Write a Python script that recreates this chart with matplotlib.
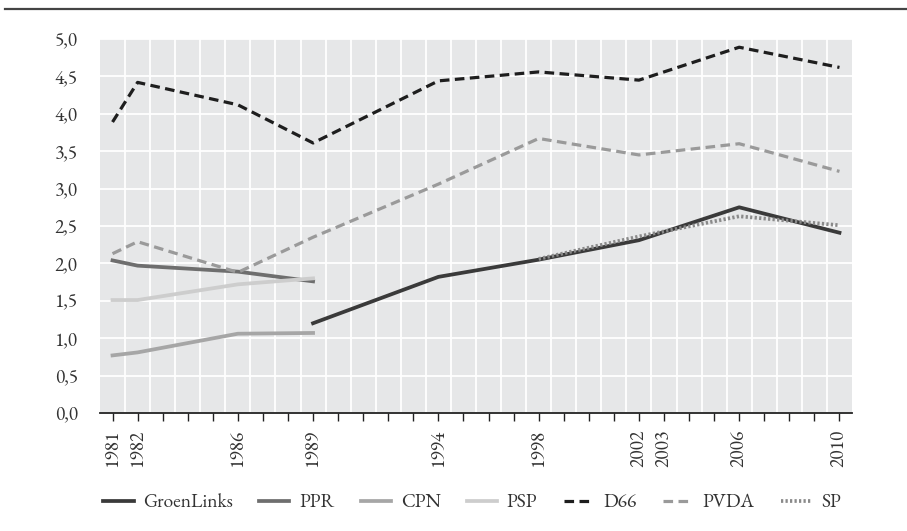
import numpy as np
import matplotlib.pyplot as plt
from matplotlib.lines import Line2D
from matplotlib.ticker import FixedLocator

# values
years_early = [1981, 1982, 1986, 1989]
ppr = [2.04, 1.97, 1.89, 1.76]
cpn = [0.77, 0.81, 1.06, 1.07]
psp = [1.51, 1.51, 1.72, 1.80]

years_gl = [1989, 1994, 1998, 2002, 2006, 2010]
groenlinks = [1.20, 1.82, 2.05, 2.31, 2.75, 2.41]

years_sp = [1998, 2002, 2006, 2010]
sp = [2.06, 2.36, 2.63, 2.51]

years_all = [1981, 1982, 1986, 1989, 1994, 1998, 2002, 2006, 2010]
d66 = [3.89, 4.42, 4.12, 3.61, 4.44, 4.56, 4.45, 4.89, 4.62]
pvda = [2.13, 2.29, 1.88, 2.35, 3.06, 3.67, 3.45, 3.60, 3.23]

labelled_years = [1981, 1982, 1986, 1989, 1994, 1998, 2002, 2003, 2006, 2010]
y_ticks = [0.0, 0.5, 1.0, 1.5, 2.0, 2.5, 3.0, 3.5, 4.0, 4.5, 5.0]

plt.rcParams['font.family'] = ['EB Garamond', 'Liberation Serif', 'DejaVu Serif']

fig = plt.figure(figsize=(9.07, 5.31), dpi=100)
ax = fig.add_axes([100 / 907, 1 - 413 / 531, 752 / 907, 374 / 531])
ax.set_facecolor('#e6e7e8')

lw = 2.3
ax.plot(years_gl, groenlinks, color='#3a3a3a', lw=lw + 0.4, label='GroenLinks', zorder=4)
ax.plot(years_early, ppr, color='#6e6e6e', lw=lw + 0.4, label='PPR', zorder=3)
ax.plot(years_early, cpn, color='#a6a6a6', lw=lw + 0.4, label='CPN', zorder=3)
ax.plot(years_early, psp, color='#cdcdcd', lw=lw + 0.4, label='PSP', zorder=3)
ax.plot(years_all, d66, color='#1e1e1e', lw=lw, ls=(0, (3, 1.7)), label='D66', zorder=3)
ax.plot(years_all, pvda, color='#9a9a9a', lw=lw, ls=(0, (3, 1.7)), label='PVDA', zorder=3)
ax.plot(years_sp, sp, color='#8a8a8a', lw=lw + 0.4, ls=(0, (0.6, 0.6)), label='SP', zorder=5)

ax.set_xlim(1980.5, 2010.5)
ax.set_ylim(0, 5)

all_years = list(range(1981, 2011))
ax.xaxis.set_major_locator(FixedLocator(all_years))
ax.set_xticklabels([str(y) if y in labelled_years else '' for y in all_years],
                   rotation=90, fontsize=14, color='#333333')
ax.xaxis.set_minor_locator(FixedLocator([y + 0.5 for y in all_years[:-1]]))
ax.set_yticks(y_ticks)
ax.set_yticklabels([f'{v:.1f}'.replace('.', ',') for v in y_ticks], fontsize=14, color='#333333')

ax.grid(False)
ax.grid(True, which='minor', axis='x', color='white', lw=1.3)
ax.grid(True, which='major', axis='y', color='white', lw=1.3)
ax.set_axisbelow(True)

for s in ['top', 'right', 'left']:
    ax.spines[s].set_visible(False)
ax.spines['bottom'].set_color('#222222')
ax.spines['bottom'].set_linewidth(1.3)
ax.tick_params(axis='x', which='major', length=6, width=1, color='#222222', pad=6)
ax.tick_params(axis='x', which='minor', length=0)
ax.tick_params(axis='y', length=0, pad=16)

# rule across the top of the figure
fig.add_artist(Line2D([0.005, 1], [1 - 9 / 531] * 2, color='#444444', lw=1.6))

fig.legend(loc='center', bbox_to_anchor=(472 / 907, 1 - 503 / 531), ncol=7, frameon=False,
           fontsize=14, handlelength=1.55, columnspacing=1.35, handletextpad=0.5,
           labelcolor='#333333')

plt.savefig('out.png', dpi=100)
